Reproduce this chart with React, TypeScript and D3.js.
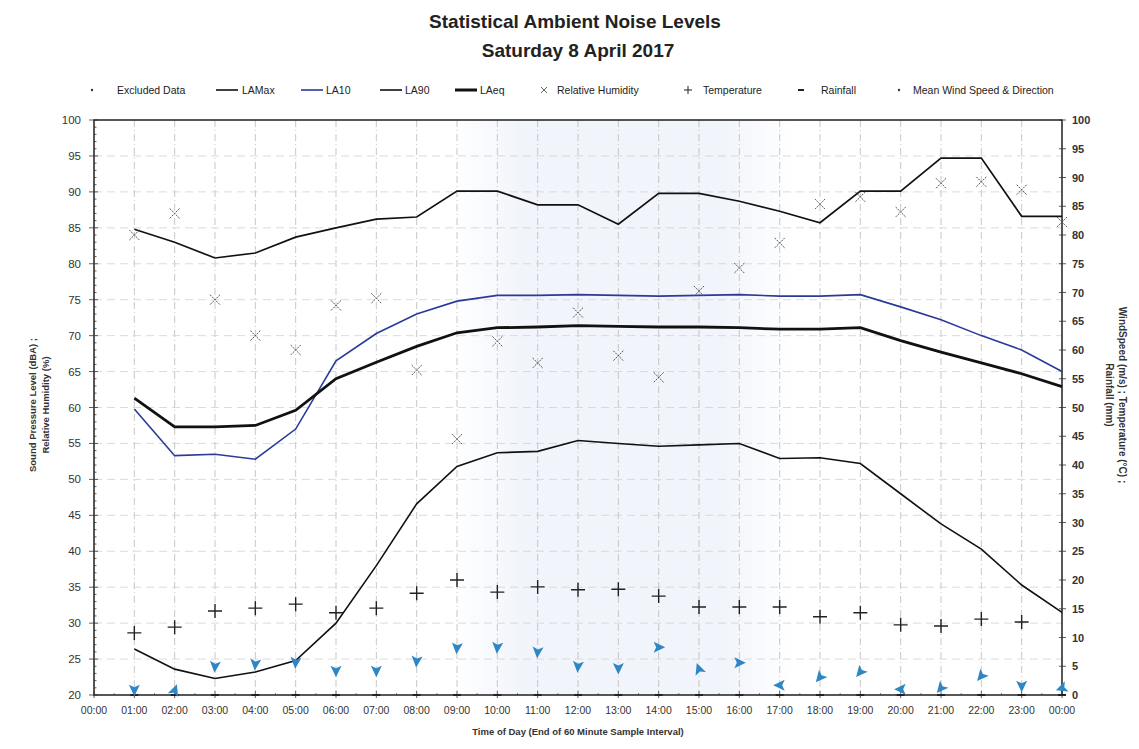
import * as d3 from "d3";

// hourly values, end of each 60 minute interval (01:00 ... 24:00)
const hours = d3.range(1, 25);
const timeLabels = d3.range(0, 25).map((h) => `${String(h % 24).padStart(2, "0")}:00`);

const laMax = [84.8, 83.0, 80.8, 81.5, 83.7, 85.0, 86.2, 86.5, 90.1, 90.1, 88.2, 88.2,
  85.5, 89.8, 89.8, 88.7, 87.3, 85.7, 90.1, 90.1, 94.7, 94.7, 86.6, 86.6];
const la10 = [59.8, 53.3, 53.5, 52.8, 57.0, 66.5, 70.3, 73.0, 74.8, 75.6, 75.6, 75.7,
  75.6, 75.5, 75.6, 75.7, 75.5, 75.5, 75.7, 74.0, 72.2, 70.0, 68.0, 65.0];
const laEq = [61.3, 57.3, 57.3, 57.5, 59.6, 64.0, 66.3, 68.5, 70.4, 71.1, 71.2, 71.4,
  71.3, 71.2, 71.2, 71.1, 70.9, 70.9, 71.1, 69.3, 67.7, 66.2, 64.7, 62.9];
const la90 = [26.4, 23.6, 22.3, 23.2, 24.8, 30.0, 38.0, 46.6, 51.8, 53.7, 53.9, 55.4,
  55.0, 54.6, 54.8, 55.0, 52.9, 53.0, 52.2, 48.0, 43.8, 40.3, 35.3, 31.5];
const humidity = [84.0, 87.0, 75.0, 70.0, 68.0, 74.2, 75.2, 65.2, 55.6, 69.2, 66.2, 73.2,
  67.2, 64.2, 76.2, 79.4, 82.9, 88.3, 89.3, 87.2, 91.2, 91.4, 90.3, 85.8];
const temperature = [10.8, 11.8, 14.6, 15.1, 15.8, 14.3, 15.1, 17.7, 20.0, 17.9, 18.8, 18.3,
  18.4, 17.2, 15.3, 15.3, 15.3, 13.6, 14.3, 12.2, 12.0, 13.2, 12.7, null];
const rainfall = [0, 0, 0, 0, 0, 0, 0, 0, 0, 0, 0, 0, 0, 0, 0, 0, 0, 0, 0, 0, 0, 0, 0, 0];
const windSpeed = [0.9, 0.8, 5.0, 5.4, 5.7, 4.2, 4.2, 5.9, 8.2, 8.3, 7.5, 5.0,
  4.7, 8.3, 4.5, 5.6, 1.7, 3.1, 4.0, 1.0, 1.2, 3.3, 1.6, 1.2];
// bearing the wind blows from (degrees)
const windFrom = [0, 200, 5, 5, 5, 0, 0, 5, 5, 5, 5, 5,
  0, 270, 160, 270, 90, 40, 40, 90, 40, 40, 0, 70];

const leftTicks = d3.range(20, 101, 5);
const rightTicks = d3.range(0, 101, 5);

const W = 1139;
const H = 749;
const m = { left: 94, right: 1062, top: 120, bottom: 695 };
const font = "'Liberation Sans', Arial, sans-serif";

export default function App() {
  const x = d3.scaleLinear().domain([0, 24]).range([m.left, m.right]);
  const y = d3.scaleLinear().domain([20, 100]).range([m.bottom, m.top]);
  const y2 = d3.scaleLinear().domain([0, 100]).range([m.bottom, m.top]);

  const line = d3.line<number>()
    .x((_, i) => x(hours[i]))
    .y((d) => y(d));

  const arrow = "M0,6.5 L-5.5,-5 L0,-2.5 L5.5,-5 Z";
  const blue = "#2e86c4";

  const legend = [
    { kind: "dot", label: "Excluded Data", mx: 92, tx: 117 },
    { kind: "line", label: "LAMax", mx: 216, tx: 242, color: "#111", w: 1.6 },
    { kind: "line", label: "LA10", mx: 301, tx: 326, color: "#2a3a9a", w: 1.6 },
    { kind: "line", label: "LA90", mx: 380, tx: 405, color: "#111", w: 1.6 },
    { kind: "line", label: "LAeq", mx: 455, tx: 480, color: "#111", w: 3 },
    { kind: "x", label: "Relative Humidity", mx: 544, tx: 557 },
    { kind: "plus", label: "Temperature", mx: 688, tx: 703 },
    { kind: "dash", label: "Rainfall", mx: 801, tx: 821 },
    { kind: "dot", label: "Mean Wind Speed & Direction", mx: 899, tx: 913 },
  ];

  return (
    <svg width={W} height={H} style={{ position: "absolute", left: 0, top: 0, background: "#fff" }}
      fontFamily={font}>
      <defs>
        <linearGradient id="band" x1="0" x2="1" y1="0" y2="0">
          <stop offset="0" stopColor="#eef2fa" stopOpacity="0" />
          <stop offset="0.2" stopColor="#eef2fa" stopOpacity="0.8" />
          <stop offset="0.8" stopColor="#eef2fa" stopOpacity="0.8" />
          <stop offset="1" stopColor="#eef2fa" stopOpacity="0" />
        </linearGradient>
      </defs>

      <text x={575} y={28} textAnchor="middle" fontSize={19} fontWeight="bold" fill="#222">
        Statistical Ambient Noise Levels
      </text>
      <text x={578} y={57} textAnchor="middle" fontSize={19} fontWeight="bold" fill="#222">
        Saturday 8 April 2017
      </text>

      {/* legend */}
      <g fontSize={10.5} fill="#222">
        {legend.map((l) => (
          <g key={l.label}>
            {l.kind === "dot" && <circle cx={l.mx} cy={90} r={1.2} fill="#333" />}
            {l.kind === "line" && (
              <line x1={l.mx} x2={l.mx + 22} y1={90} y2={90} stroke={l.color} strokeWidth={l.w} />
            )}
            {l.kind === "x" && (
              <path d={`M${l.mx - 3},87 L${l.mx + 3},93 M${l.mx + 3},87 L${l.mx - 3},93`} stroke="#555" strokeWidth={0.9} />
            )}
            {l.kind === "plus" && (
              <path d={`M${l.mx - 4},90 H${l.mx + 4} M${l.mx},86 V94`} stroke="#222" strokeWidth={1} />
            )}
            {l.kind === "dash" && (
              <line x1={l.mx - 3} x2={l.mx + 3} y1={90} y2={90} stroke="#222" strokeWidth={2} />
            )}
            <text x={l.tx} y={94}>{l.label}</text>
          </g>
        ))}
      </g>

      {/* faint shaded band */}
      <rect x={x(8.9)} y={m.top} width={x(17.3) - x(8.9)} height={m.bottom - m.top} fill="url(#band)" />

      {/* grid */}
      <g stroke="#b9b9b9" strokeWidth={0.8} strokeDasharray="7,3,1,3">
        {d3.range(1, 24).map((h) => (
          <line key={h} x1={x(h)} x2={x(h)} y1={m.top} y2={m.bottom} />
        ))}
      </g>
      <g stroke="#d2d2d2" strokeWidth={0.8} strokeDasharray="8,5">
        {leftTicks.slice(1, -1).map((t) => (
          <line key={t} x1={m.left} x2={m.right} y1={y(t)} y2={y(t)} />
        ))}
      </g>

      {/* plot frame */}
      <rect x={m.left} y={m.top} width={m.right - m.left} height={m.bottom - m.top}
        fill="none" stroke="#111" strokeWidth={1.4} />

      {/* left axis */}
      <g fontSize={11.5} fill="#333" textAnchor="end">
        {d3.range(20, 101, 1).map((t) => (
          <line key={t} x1={m.left} x2={m.left + (t % 5 === 0 ? 4 : 2.5)} y1={y(t)} y2={y(t)}
            stroke="#333" strokeWidth={0.8} />
        ))}
        {leftTicks.map((t) => (
          <g key={t}>
            <line x1={m.left - 5} x2={m.left} y1={y(t)} y2={y(t)} stroke="#333" strokeWidth={0.8} />
            <text x={m.left - 13} y={y(t) + 4}>{t}</text>
          </g>
        ))}
      </g>
      <g transform={`translate(40,405) rotate(-90)`} fontSize={9.5} fontWeight="bold" fill="#333" textAnchor="middle">
        <text x={0} y={-4}>Sound Pressure Level (dBA) ;</text>
        <text x={0} y={9}>Relative Humidity (%)</text>
      </g>

      {/* right axis */}
      <g fontSize={11} fontWeight="bold" fill="#333">
        {rightTicks.map((t) => (
          <g key={t}>
            <line x1={m.right - 3} x2={m.right + 4} y1={y2(t)} y2={y2(t)} stroke="#333" strokeWidth={0.8} />
            <text x={m.right + 10} y={y2(t) + 4}>{t}</text>
          </g>
        ))}
      </g>
      <g transform={`translate(1115,395) rotate(90)`} fontSize={10} fontWeight="bold" fill="#333" textAnchor="middle">
        <text x={0} y={-4}>WindSpeed (m/s) ; Temperature (°C) ;</text>
        <text x={0} y={9}>Rainfall (mm)</text>
      </g>

      {/* bottom axis */}
      <g fontSize={10.5} fill="#333" textAnchor="middle">
        {timeLabels.map((lab, h) => (
          <g key={h}>
            <line x1={x(h)} x2={x(h)} y1={m.bottom - 4} y2={m.bottom + 3} stroke="#333" strokeWidth={0.8} />
            <text x={x(h)} y={m.bottom + 19}>{lab}</text>
          </g>
        ))}
        {d3.range(0.5, 24, 1).map((h) => (
          <line key={h} x1={x(h)} x2={x(h)} y1={m.bottom - 2} y2={m.bottom} stroke="#333" strokeWidth={0.6} />
        ))}
      </g>
      <text x={578} y={735} textAnchor="middle" fontSize={9.5} fontWeight="bold" fill="#333">
        Time of Day (End of 60 Minute Sample Interval)
      </text>

      {/* noise lines */}
      <path d={line(la90) ?? ""} fill="none" stroke="#111" strokeWidth={1.6} />
      <path d={line(laMax) ?? ""} fill="none" stroke="#111" strokeWidth={1.7} />
      <path d={line(la10) ?? ""} fill="none" stroke="#2a3a9a" strokeWidth={1.6} />
      <path d={line(laEq) ?? ""} fill="none" stroke="#111" strokeWidth={2.8} />

      {/* relative humidity */}
      <g stroke="#555" strokeWidth={1}>
        {humidity.map((v, i) => (
          <path key={i} transform={`translate(${x(hours[i])},${y(v)})`}
            d="M-5,-5 L5,5 M5,-5 L-5,5" strokeDasharray="2,1" />
        ))}
      </g>

      {/* rainfall */}
      <g stroke="#222" strokeWidth={2}>
        {rainfall.map((v, i) => (
          <line key={i} x1={x(hours[i]) - 4} x2={x(hours[i]) + 4} y1={y2(v)} y2={y2(v)} />
        ))}
      </g>

      {/* temperature */}
      <g stroke="#222" strokeWidth={1.4}>
        {temperature.map((v, i) => v == null ? null : (
          <path key={i} transform={`translate(${x(hours[i])},${y2(v)})`} d="M-7,0 H7 M0,-7 V7" />
        ))}
      </g>

      {/* wind speed & direction */}
      <g fill={blue}>
        {windSpeed.map((v, i) => (
          <path key={i} d={arrow}
            transform={`translate(${x(hours[i])},${y2(v)}) rotate(${windFrom[i]})`} />
        ))}
      </g>
    </svg>
  );
}
